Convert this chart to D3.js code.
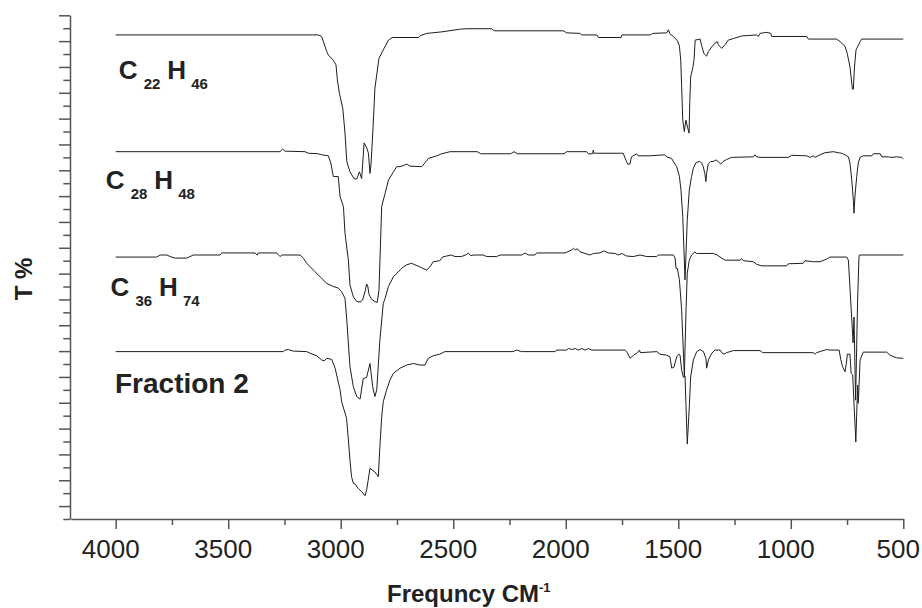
<!DOCTYPE html>
<html>
<head>
<meta charset="utf-8">
<script src="https://cdn.jsdelivr.net/npm/d3@7"></script>
<style>
  body { margin: 0; background: #fff; }
  svg { display: block; font-family: 'Liberation Sans', Arial, sans-serif; }
</style>
</head>
<body>
<div id="chart"></div>
<script>
// IR spectra, [wavenumber cm-1, T %] (traces are stacked, T is on an arbitrary offset scale)
const c22h46 = [
  [4000, 96.2], [3100, 96.2], [3085, 95.9], [3062, 93.0], [3055, 92.3], [3033, 91.3], [3021, 90.4],
  [3015, 87.5], [3006, 84.9], [2991, 82.0], [2981, 77.2], [2973, 71.7], [2959, 69.7], [2941, 68.4],
  [2929, 68.3], [2917, 69.7], [2907, 68.4], [2896, 75.3], [2884, 74.3], [2877, 73.3], [2870, 69.4],
  [2865, 71.4], [2857, 77.8], [2848, 85.9], [2830, 91.7], [2811, 93.3], [2788, 95.2], [2771, 95.7],
  [2655, 95.7], [2644, 96.1], [2617, 96.5], [2550, 96.8], [2472, 97.3], [2439, 97.4], [2329, 97.4],
  [2318, 97.0], [2011, 97.0], [1996, 96.6], [1937, 96.5], [1929, 96.2], [1862, 96.2], [1855, 95.7],
  [1754, 95.7], [1750, 96.2], [1625, 96.2], [1613, 96.5], [1551, 96.6], [1544, 97.2], [1537, 96.4],
  [1522, 95.9], [1504, 95.1], [1495, 94.1], [1489, 91.3], [1485, 86.2], [1480, 79.7], [1473, 77.5],
  [1466, 79.7], [1458, 78.2], [1452, 77.2], [1449, 83.0], [1445, 88.1], [1436, 89.7], [1430, 91.3],
  [1425, 95.2], [1403, 95.4], [1396, 94.1], [1386, 92.6], [1374, 92.1], [1366, 93.0], [1351, 93.9],
  [1337, 94.6], [1326, 94.9], [1322, 94.3], [1307, 93.6], [1292, 94.3], [1278, 95.2], [1255, 95.5],
  [1218, 96.0], [1151, 96.2], [1144, 95.9], [1137, 96.5], [1107, 96.7], [1089, 96.5], [1085, 95.9],
  [929, 95.9], [922, 95.4], [796, 95.4], [781, 94.9], [759, 94.0], [749, 92.6], [737, 90.0],
  [726, 85.7], [722, 85.7], [717, 90.0], [710, 93.3], [692, 94.9], [685, 95.4], [500, 95.4]
]

const c28h48 = [
  [4000, 73.6], [3270, 73.6], [3258, 74.1], [3248, 73.7], [3159, 73.6], [3144, 73.3], [3100, 73.2],
  [3085, 73.0], [3055, 72.8], [3044, 71.4], [3033, 68.8], [3011, 68.8], [3003, 64.9], [2988, 63.0],
  [2981, 57.8], [2966, 52.6], [2959, 47.8], [2944, 45.5], [2929, 44.6], [2914, 44.5], [2903, 44.9],
  [2892, 46.5], [2885, 48.0], [2880, 47.6], [2874, 45.9], [2862, 45.0], [2848, 44.6], [2838, 44.4],
  [2830, 46.8], [2818, 63.0], [2803, 65.5], [2788, 68.1], [2766, 69.7], [2751, 70.7], [2736, 70.7],
  [2722, 70.9], [2707, 71.2], [2692, 70.8], [2640, 70.7], [2625, 71.5], [2610, 72.3], [2573, 72.8],
  [2551, 73.2], [2514, 73.6], [2393, 73.6], [2378, 73.2], [2245, 73.2], [2230, 73.6], [2215, 73.2],
  [2008, 73.2], [1996, 73.6], [1907, 73.6], [1900, 73.2], [1880, 73.2], [1878, 73.9], [1875, 73.3],
  [1745, 73.3], [1730, 71.7], [1725, 71.2], [1715, 71.2], [1708, 72.6], [1685, 73.2], [1678, 72.8],
  [1626, 72.8], [1560, 73.0], [1552, 72.6], [1530, 72.3], [1522, 71.7], [1507, 70.7], [1495, 68.8],
  [1488, 66.2], [1480, 61.0], [1470, 48.8], [1460, 60.4], [1451, 66.2], [1441, 68.8], [1433, 70.4],
  [1421, 71.5], [1406, 71.7], [1396, 71.4], [1389, 70.7], [1382, 69.4], [1377, 67.8], [1374, 69.4],
  [1367, 71.2], [1356, 71.7], [1345, 71.7], [1333, 72.0], [1323, 71.7], [1311, 71.2], [1301, 71.7],
  [1285, 72.1], [1263, 72.5], [1166, 72.6], [1159, 73.0], [1152, 72.6], [1137, 72.5], [1011, 72.5],
  [996, 72.9], [929, 72.8], [914, 72.5], [900, 72.8], [892, 72.5], [870, 73.0], [848, 73.4],
  [811, 73.6], [789, 73.4], [774, 73.3], [759, 73.0], [744, 72.6], [737, 71.4], [729, 68.1],
  [722, 64.2], [719, 61.7], [715, 64.9], [707, 68.8], [700, 71.4], [692, 72.5], [678, 72.8],
  [640, 72.8], [633, 73.2], [603, 73.2], [596, 72.6], [566, 72.6], [552, 72.5], [529, 72.6],
  [507, 72.5], [500, 72.2]
]

const c36h74 = [
  [4000, 53.2], [3818, 53.2], [3803, 53.6], [3773, 53.6], [3758, 53.3], [3736, 53.0], [3684, 53.0],
  [3655, 53.6], [3536, 53.6], [3529, 54.0], [3381, 54.0], [3371, 53.6], [3366, 54.0], [3284, 54.0],
  [3270, 53.3], [3262, 53.6], [3181, 53.6], [3166, 53.0], [3151, 52.0], [3122, 50.7], [3092, 49.4],
  [3062, 48.1], [3033, 47.5], [3011, 47.2], [2996, 46.5], [2981, 45.2], [2973, 41.0], [2959, 32.0],
  [2944, 28.1], [2929, 26.2], [2914, 25.7], [2900, 29.7], [2885, 29.9], [2870, 32.6], [2858, 28.1],
  [2848, 26.2], [2840, 27.5], [2826, 37.1], [2811, 44.2], [2803, 45.2], [2788, 47.5], [2766, 49.4],
  [2736, 50.7], [2722, 51.3], [2707, 51.7], [2685, 52.0], [2670, 51.7], [2648, 51.3], [2634, 51.0],
  [2618, 50.7], [2604, 51.3], [2589, 52.3], [2560, 52.5], [2548, 53.2], [2530, 53.4], [2508, 53.6],
  [2493, 53.3], [2463, 53.3], [2441, 53.7], [2433, 54.0], [2423, 53.5], [2408, 53.6], [2367, 53.6],
  [2352, 53.3], [2307, 53.3], [2292, 53.6], [2196, 53.6], [2181, 54.0], [2166, 53.6], [2137, 53.6],
  [2129, 54.0], [2003, 54.0], [1973, 54.6], [1966, 54.9], [1958, 54.6], [1948, 54.8], [1936, 54.2],
  [1914, 53.9], [1892, 53.6], [1877, 53.9], [1848, 54.0], [1830, 54.4], [1811, 54.0], [1781, 53.9],
  [1766, 53.6], [1751, 53.9], [1729, 53.4], [1700, 53.3], [1670, 53.6], [1640, 53.3], [1596, 53.3],
  [1589, 53.6], [1522, 53.6], [1514, 53.0], [1510, 51.0], [1504, 51.0], [1495, 48.8], [1485, 43.0],
  [1473, 30.2], [1466, 42.3], [1460, 50.1], [1451, 52.6], [1441, 53.6], [1426, 54.2], [1418, 53.9],
  [1345, 53.9], [1327, 53.6], [1307, 53.0], [1292, 52.6], [1226, 52.6], [1218, 52.9], [1211, 52.5],
  [1166, 52.3], [1152, 51.8], [1129, 51.5], [1018, 51.5], [1011, 51.9], [945, 52.0], [937, 52.5],
  [900, 52.3], [870, 52.3], [841, 52.8], [826, 53.2], [752, 53.2], [744, 52.6], [734, 44.9],
  [723, 36.6], [719, 41.6], [712, 25.5], [703, 44.9], [697, 53.2], [695, 53.6], [500, 53.6]
]

const fraction2 = [
  [4000, 34.9], [3255, 34.9], [3248, 35.2], [3233, 35.3], [3211, 35.0], [3151, 34.9], [3137, 34.6],
  [3107, 34.1], [3085, 33.3], [3074, 33.1], [3062, 33.6], [3040, 33.4], [3025, 31.7], [3003, 27.5],
  [2996, 25.2], [2974, 22.0], [2966, 17.8], [2959, 13.9], [2952, 10.7], [2944, 9.4], [2937, 9.3],
  [2922, 8.4], [2907, 7.8], [2892, 7.0], [2885, 8.1], [2878, 10.0], [2870, 12.3], [2848, 11.6],
  [2833, 10.7], [2826, 16.5], [2818, 22.3], [2811, 25.2], [2796, 27.5], [2781, 29.4], [2766, 30.7],
  [2736, 31.7], [2707, 32.3], [2677, 32.6], [2648, 32.3], [2626, 32.3], [2611, 33.6], [2589, 34.1],
  [2560, 34.4], [2537, 34.9], [2234, 34.9], [2219, 35.2], [2196, 34.9], [2048, 34.9], [2040, 35.2],
  [1996, 35.2], [1988, 35.5], [1973, 35.3], [1958, 35.5], [1944, 35.2], [1929, 35.5], [1914, 35.2],
  [1899, 35.5], [1884, 35.2], [1736, 35.2], [1729, 34.9], [1721, 34.2], [1714, 33.6], [1699, 34.2],
  [1681, 34.7], [1672, 35.2], [1669, 34.7], [1595, 34.9], [1581, 34.4], [1551, 34.2], [1537, 33.9],
  [1529, 31.7], [1519, 31.9], [1507, 33.9], [1498, 34.4], [1492, 34.2], [1485, 31.3], [1477, 29.9],
  [1470, 30.2], [1466, 24.9], [1460, 17.0], [1451, 24.2], [1445, 30.0], [1433, 33.3], [1418, 34.9],
  [1403, 35.3], [1388, 34.9], [1377, 33.6], [1374, 31.7], [1366, 33.3], [1351, 34.6], [1337, 35.2],
  [1314, 35.2], [1307, 34.7], [1297, 34.4], [1285, 34.7], [1255, 35.1], [1137, 35.1], [1125, 34.7],
  [900, 34.7], [892, 34.4], [885, 34.7], [863, 35.0], [841, 35.3], [826, 35.2], [785, 35.2],
  [778, 33.4], [770, 32.0], [759, 31.0], [752, 32.9], [749, 34.4], [737, 34.4], [732, 30.7],
  [725, 30.4], [711, 17.4], [703, 28.4], [700, 24.9], [692, 33.3], [678, 34.8], [574, 34.8],
  [559, 34.2], [530, 33.7], [500, 33.6]
]

const xMajorTicks = [4000, 3500, 3000, 2500, 2000, 1500, 1000, 500]
const xMinorTicks = [3750, 3250, 2750, 2250, 1750, 1250, 750]
const yTicks = d3.range(2.5, 100.01, 2.5)

const width = 922
const height = 608

const svg = d3
  .select('#chart')
  .append('svg')
  .attr('width', width)
  .attr('height', height)

const x = d3.scaleLinear().domain([4200, 500]).range([70.7, 903.3])
const y = d3.scaleLinear().domain([2.5, 100]).range([519, 15.3])

const axisColor = '#555'

// Y axis (no labels, alternating long/short ticks)
const yMajor = yTicks.filter(v => v % 5 === 0)
const yMinor = yTicks.filter(v => v % 5 !== 0)

const gyMinor = svg
  .append('g')
  .attr('transform', 'translate(70,0)')
  .call(d3.axisLeft(y).tickValues(yMinor).tickSize(6.7).tickFormat(''))
gyMinor.select('.domain').remove()

svg
  .append('g')
  .attr('transform', 'translate(70,0)')
  .call(d3.axisLeft(y).tickValues(yMajor).tickSize(11).tickSizeOuter(0).tickFormat(''))

// X axis
const gxMinor = svg
  .append('g')
  .attr('transform', 'translate(0,519)')
  .call(d3.axisBottom(x).tickValues(xMinorTicks).tickSize(6).tickFormat(''))
gxMinor.select('.domain').remove()

const gx = svg
  .append('g')
  .attr('transform', 'translate(0,519)')
  .call(
    d3
      .axisBottom(x)
      .tickValues(xMajorTicks)
      .tickFormat(d3.format('d'))
      .tickSize(10)
      .tickSizeOuter(0)
      .tickPadding(11)
  )

gx.selectAll('text')
  .style('font-size', '26px')
  .attr('dx', -5.5)
  .attr('fill', '#222')

svg.selectAll('.domain, .tick line')
  .attr('stroke', axisColor)
  .attr('stroke-width', 1.5)

// Spectra
const line = d3
  .line()
  .x(d => x(d[0]))
  .y(d => y(d[1]))

svg
  .selectAll('.spectrum')
  .data([c22h46, c28h48, c36h74, fraction2])
  .enter()
  .append('path')
  .attr('class', 'spectrum')
  .attr('d', line)
  .attr('fill', 'none')
  .attr('stroke', '#1e1e1e')
  .attr('stroke-width', 1)

// Trace labels
function drawFormula(parts, px, py) {
  const offsets = [0, 25, 48.5, 72.5]
  const t = svg.append('text').attr('font-weight', 'bold').attr('fill', '#222')
  parts.forEach((p, i) => {
    const sub = i % 2 === 1
    t.append('tspan')
      .attr('x', px + offsets[i])
      .attr('y', sub ? py + 10 : py)
      .attr('font-size', sub ? 15 : 26)
      .text(p)
  })
}

drawFormula(['C', '22', 'H', '46'], 118.7, 79)
drawFormula(['C', '28', 'H', '48'], 105.7, 189)
drawFormula(['C', '36', 'H', '74'], 110.4, 295.5)

svg
  .append('text')
  .attr('x', 115)
  .attr('y', 393)
  .attr('font-size', 28)
  .attr('font-weight', 'bold')
  .attr('fill', '#222')
  .text('Fraction 2')

// Axis titles
svg
  .append('text')
  .attr('transform', 'translate(32,279) rotate(-90)')
  .attr('text-anchor', 'middle')
  .attr('font-size', 24)
  .attr('font-weight', 'bold')
  .attr('fill', '#222')
  .text('T %')

svg
  .append('text')
  .attr('x', 387)
  .attr('y', 602)
  .attr('font-size', 24)
  .attr('font-weight', 'bold')
  .attr('fill', '#222')
  .text('Frequncy CM')

svg
  .append('text')
  .attr('x', 539)
  .attr('y', 592)
  .attr('font-size', 13)
  .attr('font-weight', 'bold')
  .attr('fill', '#222')
  .text('-1')
</script>
</body>
</html>
